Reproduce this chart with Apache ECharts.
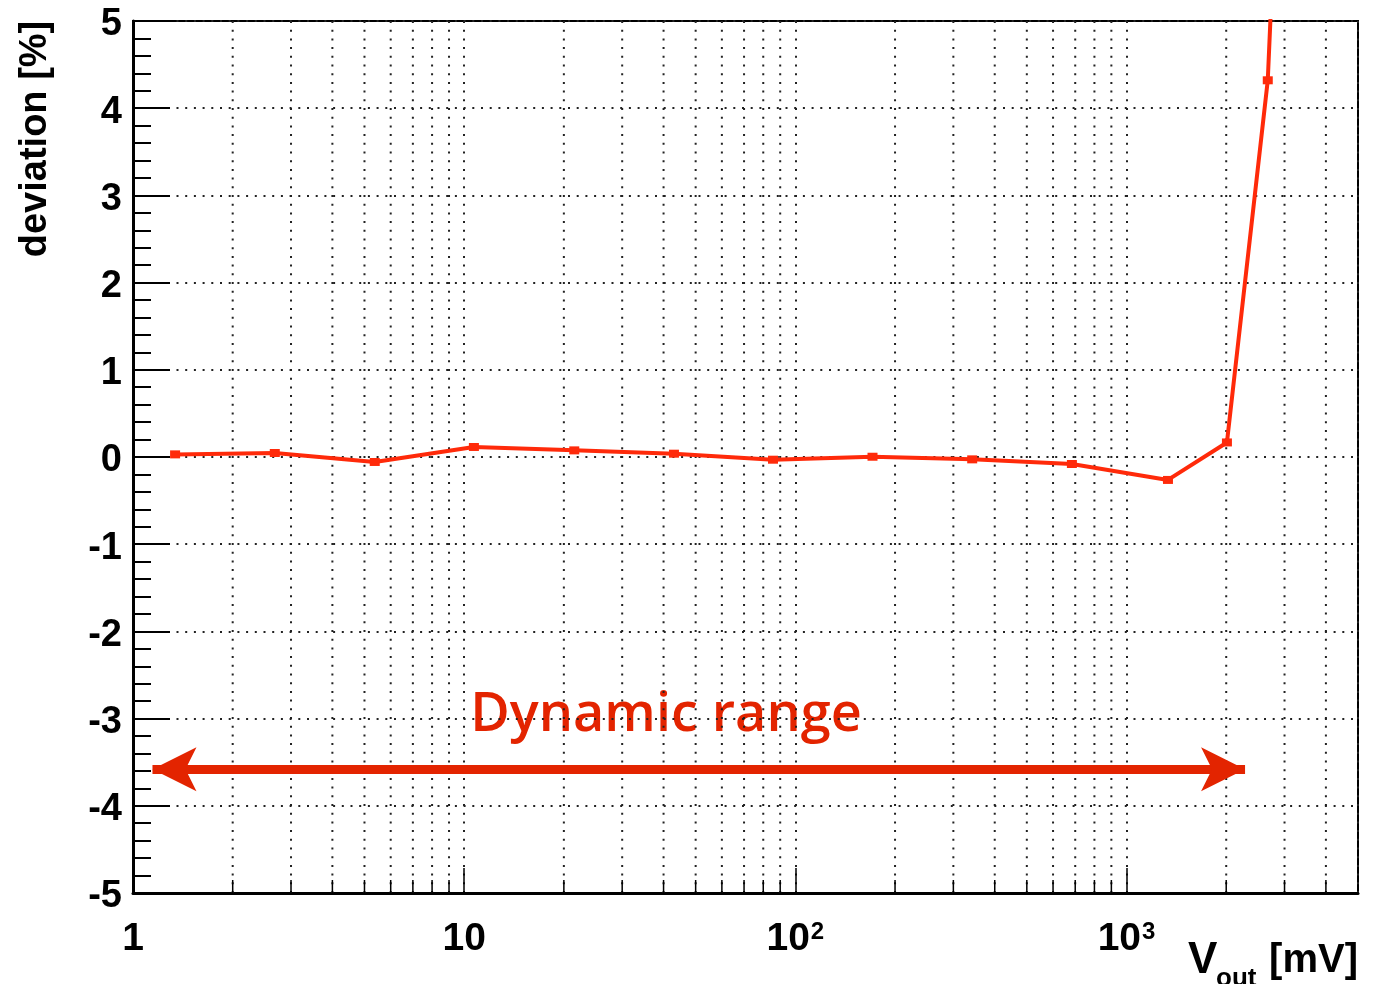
<!DOCTYPE html>
<html><head><meta charset="utf-8">
<script src="https://cdn.jsdelivr.net/npm/echarts@6/dist/echarts.min.js"></script>
<style>html,body{margin:0;padding:0;background:#fff}#c{width:1386px;height:984px}</style>
</head><body><div id="c"></div>
<script>
// ---- data ----
const vout = [1.34, 2.68, 5.37, 10.7, 21.5, 43, 85.6, 171, 342, 684, 1334, 2010, 2670, 3000];
const deviation = [0.03, 0.046, -0.057, 0.115, 0.076, 0.038, -0.031, 0.003, -0.027, -0.08, -0.263, 0.167, 4.32, 8.7];
const xTickLabels = ['1', '10', '10{s|2}', '10{s|3}'];
const xMinorGrid = [2, 3, 4, 5, 6, 7, 8, 9, 20, 30, 40, 50, 60, 70, 80, 90,
  200, 300, 400, 500, 600, 700, 800, 900, 2000, 3000, 4000];
const rangeStart = 1.145, rangeEnd = 2280, rangeLevel = -3.58;
const rangeText = 'Dynamic range';
const yTitle = 'deviation [%]';

const chart = echarts.init(document.getElementById('c'), null, {renderer: 'canvas'});
const FONT = '"Liberation Sans", Arial, Helvetica, sans-serif';
const dotted = {color: '#222', width: 2, type: [2, 6.7]};
const RED = '#ff2a0a';
const ARROW_RED = '#e32400';

const option = {
  animation: false,
  backgroundColor: '#fff',
  grid: {left: 133, right: 28, top: 21, bottom: 91, show: true, borderColor: '#000', borderWidth: 2, backgroundColor: 'transparent'},
  xAxis: {
    type: 'log', logBase: 10, min: 1, max: 5000,
    axisLine: {show: true, onZero: false, lineStyle: {color: '#000', width: 3}},
    axisTick: {show: true, inside: true, length: 25, lineStyle: {color: '#000', width: 1.5}},
    minorTick: {show: false},
    splitLine: {show: true, lineStyle: dotted},
    axisLabel: {
      show: true, margin: 27, color: '#000', fontFamily: FONT, fontWeight: 'bold', fontSize: 39,
      showMaxLabel: false,
      formatter: function (v) {
        const e = Math.log10(v);
        const r = Math.round(e);
        if (Math.abs(e - r) > 1e-6) return '';
        return xTickLabels[r] || '';
      },
      rich: {s: {fontSize: 24, fontWeight: 'bold', fontFamily: FONT, color: '#000', verticalAlign: 'top', padding: [0, 0, 0, 1]}}
    }
  },
  yAxis: {
    type: 'value', min: -5, max: 5, interval: 1,
    axisLine: {show: true, onZero: false, lineStyle: {color: '#000', width: 3}},
    axisTick: {show: true, inside: true, length: 37, lineStyle: {color: '#000', width: 2}},
    minorTick: {show: true, splitNumber: 5, length: 18, lineStyle: {color: '#000', width: 2}},
    splitLine: {show: true, lineStyle: dotted},
    axisLabel: {
      margin: 11, color: '#000', fontFamily: FONT, fontWeight: 'bold', fontSize: 38,
      formatter: function (v) { return '{a|' + v + '}'; },
      rich: {a: {fontFamily: FONT, fontWeight: 'bold', fontSize: 38, color: '#000', padding: [8, 0, 0, 0]}}
    }
  },
  series: [
    {
      type: 'custom', z: 1, silent: true,
      data: xMinorGrid.map(v => [v]),
      encode: {x: 0},
      renderItem: function (params, api) {
        const v = api.value(0);
        const top = api.coord([v, 5]);
        const bot = api.coord([v, -5]);
        return {
          type: 'group',
          children: [
            {type: 'line', shape: {x1: top[0], y1: top[1], x2: bot[0], y2: bot[1]}, style: {stroke: '#222', lineWidth: 2, lineDash: [2, 6.7]}},
            {type: 'line', shape: {x1: bot[0], y1: bot[1], x2: bot[0], y2: bot[1] - 13}, style: {stroke: '#000', lineWidth: 1.5}}
          ]
        };
      }
    },
    {
      type: 'line', z: 3, clip: true,
      data: vout.map((x, i) => [x, deviation[i]]),
      symbol: 'rect', symbolSize: [10, 8], showSymbol: true,
      itemStyle: {color: RED},
      lineStyle: {color: RED, width: 4},
      markLine: {
        silent: true, z: 4,
        symbol: ['arrow', 'arrow'], symbolSize: [33, 44],
        label: {show: false},
        lineStyle: {color: ARROW_RED, width: 9, type: 'solid'},
        itemStyle: {color: ARROW_RED},
        emphasis: {disabled: true},
        data: [[{coord: [rangeStart, rangeLevel]}, {coord: [rangeEnd, rangeLevel]}]]
      }
    }
  ],
  graphic: [
    {type: 'text', x: 36, y: 139, rotation: Math.PI / 2,
      style: {text: yTitle, font: 'bold 38px ' + FONT, fill: '#000', textAlign: 'center', textVerticalAlign: 'middle'}},
    {type: 'text', x: 666, y: 716,
      style: {text: rangeText, font: '600 54px "Open Sans", sans-serif', fill: ARROW_RED, textAlign: 'center', textVerticalAlign: 'middle'}},
    {type: 'text', x: 1188, y: 961,
      style: {text: 'V', font: 'bold 44px ' + FONT, fill: '#000', textAlign: 'left', textVerticalAlign: 'middle'}},
    {type: 'text', x: 1216, y: 979,
      style: {text: 'out', font: 'bold 26px ' + FONT, fill: '#000', textAlign: 'left', textVerticalAlign: 'middle'}},
    {type: 'text', x: 1358, y: 961,
      style: {text: '[mV]', font: 'bold 40px ' + FONT, fill: '#000', textAlign: 'right', textVerticalAlign: 'middle'}}
  ]
};
chart.setOption(option);
</script></body></html>
